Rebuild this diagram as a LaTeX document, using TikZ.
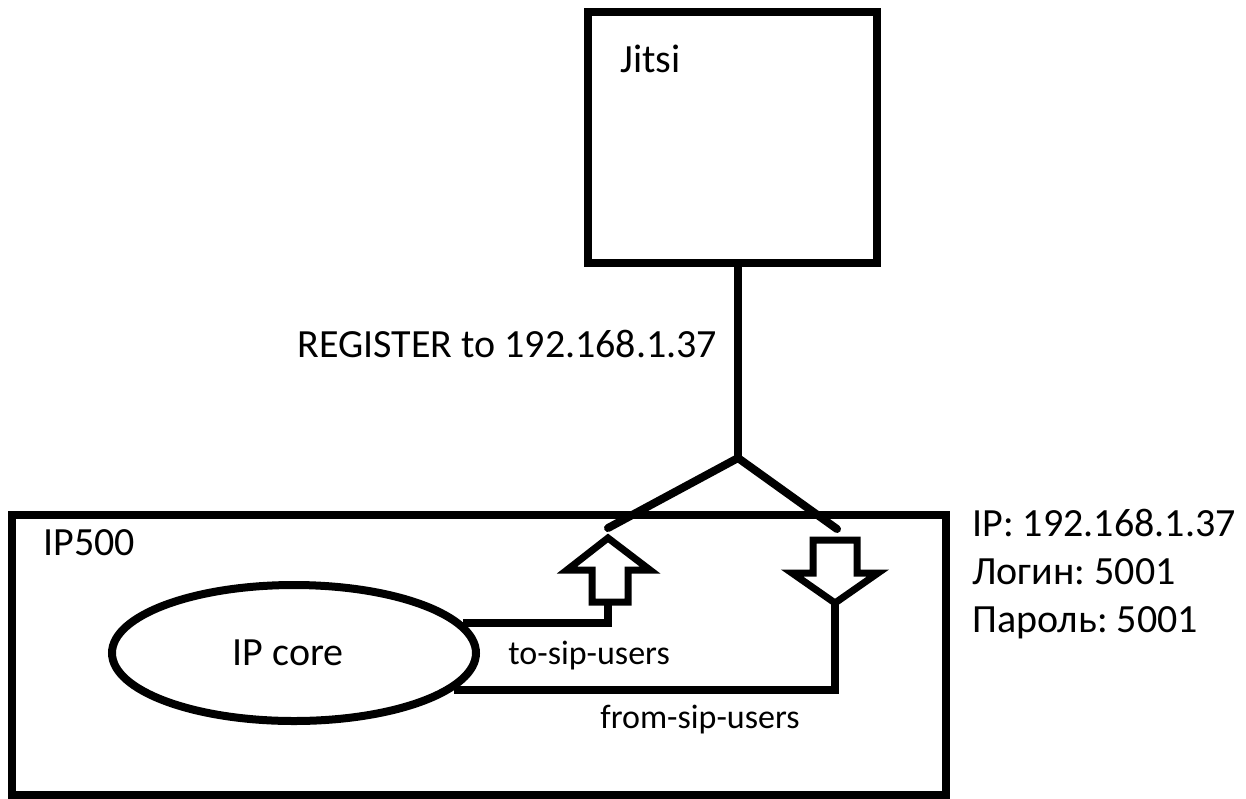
\documentclass[tikz,border=0pt]{standalone}
\usepackage{fontspec}
\setmainfont{Carlito}
\usetikzlibrary{shapes.geometric}
\frenchspacing

\tikzset{
  box/.style={draw, line width=4pt, inner sep=0pt},
  wire/.style={line width=4pt},
  arrowline/.style={line width=3.5pt},
  bigtext/.style={font=\fontsize{20}{24}\selectfont, inner sep=0pt, anchor=base west},
  smalltext/.style={font=\fontsize{17}{20}\selectfont, inner sep=0pt, anchor=base west}
}

\begin{document}
\begin{tikzpicture}[x=0.5pt,y=-0.5pt]
\useasboundingbox (0,0) rectangle (1246,798);

% Jitsi box
\node[box, minimum width=144.5pt, minimum height=125.5pt] (jitsi) at (732.5,137.5) {};
\node[bigtext] (jitsilabel) at (620,72) {Jitsi};

% IP500 box
\node[box, minimum width=467pt, minimum height=140pt] (ip500) at (479,655) {};
\node[bigtext] (ip500label) at (43,555) {IP500};

% IP core
\node[box, ellipse, minimum width=182pt, minimum height=68pt,
      font=\fontsize{20}{24}\selectfont] (core) at (294,653) {IP core\hspace*{6pt}};

% fork from jitsi
\coordinate (fork) at (738,458);
\coordinate (upend) at (608,528);
\coordinate (downend) at (837,529);
\draw[wire] (fork |- jitsi.south) -- (fork);
\draw[wire, line cap=round] (upend) -- (fork) -- (downend);

% block arrows
\draw[arrowline] (592,602) -- (592,570) -- (567,570) -- (608,538) -- (650,570) -- (628,570) -- (628,602) -- cycle;
\coordinate (uptail) at (608,602);
\draw[arrowline] (813,540) -- (857,540) -- (857,573) -- (878,573) -- (835,603) -- (792,573) -- (813,573) -- cycle;
\coordinate (downtip) at (835,603);

% links to core
\draw[wire] (core.10) -| (uptail);
\draw[wire] (core.-13) -| (downtip);

% labels
\node[bigtext] (register) at (297,357) {REGISTER to 192.168.1.37};
\node[smalltext] (tosip) at (508,664) {to-sip-users};
\node[smalltext] (fromsip) at (600,728) {from-sip-users};
\node[bigtext] (ipaddr) at (972,536) {IP: 192.168.1.37};
\node[bigtext] (login) at (972,584) {Логин: 5001};
\node[bigtext] (passwd) at (972,632) {Пароль: 5001};

\end{tikzpicture}
\end{document}
